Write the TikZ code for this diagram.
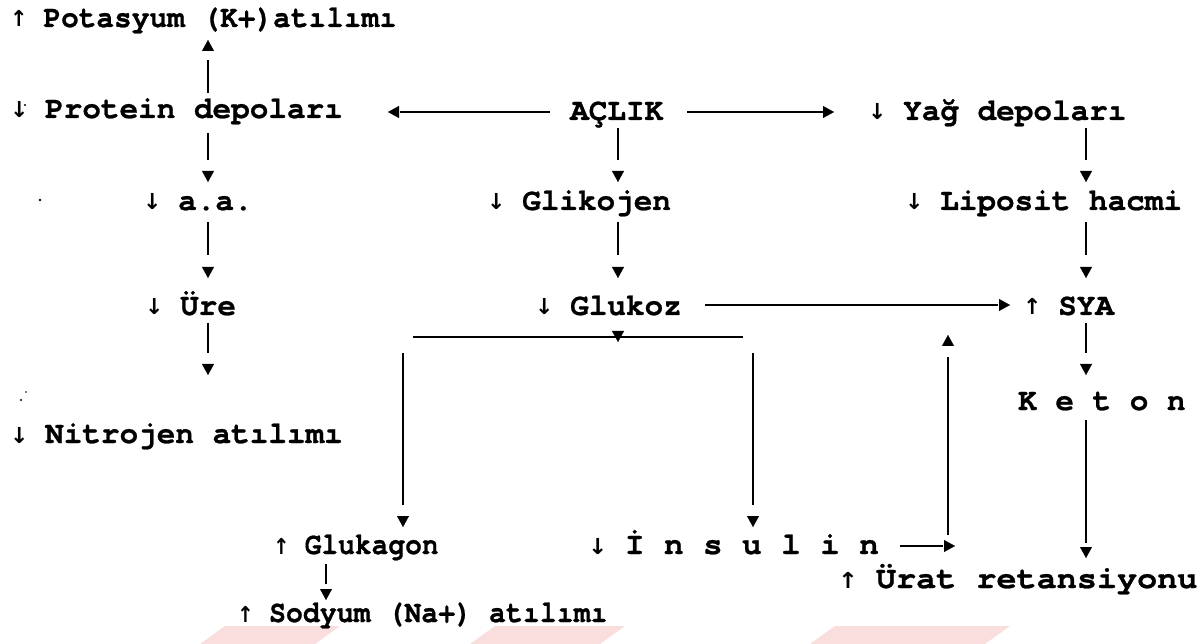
\documentclass[tikz,border=0pt]{standalone}
\usepackage{graphicx}
\usepackage{fontspec}
\newfontfamily\courfont{texgyrecursor-bold.otf}[FakeBold=0.8]
\newfontfamily\arwfont{DejaVu Sans}
\usetikzlibrary{arrows.meta}
\newcommand\UPA{\makebox[35pt][l]{\arwfont\bfseries\fontsize{22}{22}\selectfont ↑}}
\newcommand\DNA{\makebox[35pt][l]{\arwfont\bfseries\fontsize{22}{22}\selectfont ↓}}
\definecolor{wm}{RGB}{250,222,222}
\tikzset{
  txt/.style={anchor=base west, inner sep=0pt, font=\courfont\fontsize{31}{36}\selectfont},
  ln/.style={line width=1.4pt},
  conn/.style={ln, shorten >=#1, postaction={draw, shorten >=0pt, line width=0.2pt,
     dash pattern=on 0pt off 5000pt, -{Triangle[length=11pt,width=12pt]}}},
  conn/.default=20pt,
  speck/.style={fill=black, draw=none}
}
\begin{document}
\begin{tikzpicture}[x=1pt,y=-1pt]
\useasboundingbox (0,0) rectangle (1203,644);
% watermark
\fill[wm] (200,644) -- (225,626) -- (340,626) -- (315,644) -- cycle;
\fill[wm] (470,644) -- (495,626) -- (625,626) -- (600,644) -- cycle;
\fill[wm] (810,644) -- (835,626) -- (1010,626) -- (985,644) -- cycle;
% texts
\node[txt] (pot) at (10,27) {\scalebox{0.95}[1]{\UPA Potasyum (K+)atılımı}};
\node[txt] (prot) at (10,118) {\DNA Protein depoları};
\node[txt] (acl) at (570,120) {AÇLIK};
\node[txt] (yag) at (868,120) {\DNA Yağ depoları};
\node[txt] (aa) at (143,210) {\DNA a.a.};
\node[txt] (gli) at (487,210) {\DNA Glikojen};
\node[txt] (lip) at (905,210) {\DNA Liposit hacmi};
\node[txt] (ure) at (145,315) {\DNA Üre};
\node[txt] (glu) at (535,315) {\DNA Glukoz};
\node[txt] (sya) at (1023,315) {\UPA SYA};
\node[txt] (ket) at (1018,410) {K e t o n};
\node[txt] (nit) at (10,443) {\DNA Nitrojen atılımı};
\node[txt] (glk) at (273,554) {\scalebox{0.9}[1]{\UPA Glukagon}};
\node[txt] (ins) at (588,554) {\scalebox{1.05}[1]{\DNA İ n s u l i n}};
\node[txt] (ura) at (838,588) {\scalebox{1.08}[1]{\UPA Ürat retansiyonu}};
\node[txt] (sod) at (237,622) {\scalebox{0.91}[1]{\UPA Sodyum (Na+) atılımı}};
% connector end points
\coordinate (protU) at (208,93);   \coordinate (potD) at (208,40);
\coordinate (aclL) at (550,112);   \coordinate (protR) at (388,112);
\coordinate (aclR) at (687,112);   \coordinate (yagL) at (834,112);
\coordinate (protD) at (208,133);  \coordinate (aaU) at (208,182);
\coordinate (aclD) at (618,128);   \coordinate (gliU) at (618,182);
\coordinate (yagD) at (1086,128);  \coordinate (lipU) at (1086,182);
\coordinate (aaD) at (208,222);    \coordinate (ureU) at (208,278);
\coordinate (gliD) at (618,222);   \coordinate (gluU) at (618,278);
\coordinate (lipD) at (1086,222);  \coordinate (syaU) at (1086,278);
\coordinate (ureD) at (208,323);   \coordinate (nitU) at (208,375);
\coordinate (gluR) at (705,305);   \coordinate (syaL) at (1010,305);
\coordinate (gluD) at (618,331);   \coordinate (barM) at (618,342);
\coordinate (barL) at (413,337);   \coordinate (barR) at (743,337);
\coordinate (barLD) at (403,353);  \coordinate (glkU) at (403,527);
\coordinate (barRD) at (753,353);  \coordinate (insU) at (753,527);
\coordinate (glkD) at (326,564);   \coordinate (sodU) at (326,600);
\coordinate (insR) at (900,546);   \coordinate (riseE) at (955,546);
\coordinate (riseB) at (948,535);  \coordinate (syaB) at (948,335);
\coordinate (syaD) at (1086,323);  \coordinate (ketU) at (1086,375);
\coordinate (ketD) at (1086,420);  \coordinate (uraU) at (1086,558);
% connectors
\draw[conn] (protU) -- (potD);
\draw[conn=12pt] (aclL) -- (protR);
\draw[conn=11pt] (aclR) -- (yagL);
\draw[conn=22pt] (protD) -- (aaU);
\draw[conn=22pt] (aclD) -- (gliU);
\draw[conn=22pt] (yagD) -- (lipU);
\draw[conn=23pt] (aaD) -- (ureU);
\draw[conn=23pt] (gliD) -- (gluU);
\draw[conn=23pt] (lipD) -- (syaU);
\draw[conn=22pt] (ureD) -- (nitU);
\draw[conn=22pt] (syaD) -- (ketU);
\draw[conn=12pt] (gluR) -- (syaL);
\draw[conn=11pt] (gluD) -- (barM);
\draw[ln] (barL) -- (barR);
\draw[conn=22pt] (barLD) -- (glkU);
\draw[conn=22pt] (barRD) -- (insU);
\draw[conn=16pt] (glkD) -- (sodU);
\draw[conn=12pt] (insR) -- (riseE);
\draw[conn=22pt] (riseB) -- (syaB);
\draw[conn=15pt] (ketD) -- (uraU);
% scan specks
\fill[speck] (25,105) circle (1.2);
\fill[speck] (40,200) circle (1.3);
\fill[speck] (26,392) circle (0.9);
\fill[speck] (21,400) circle (1.2);
\end{tikzpicture}
\end{document}
